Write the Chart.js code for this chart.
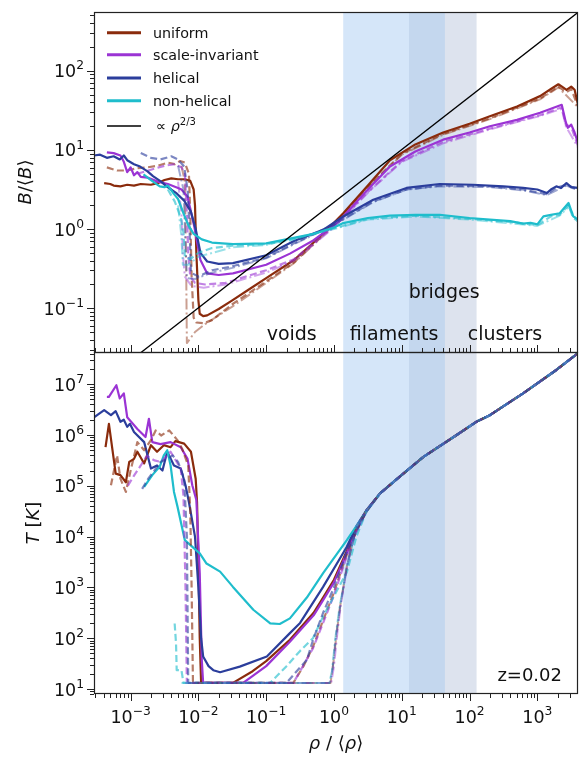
<!DOCTYPE html>
<html>
<head>
<meta charset="utf-8">
<script src="https://cdn.jsdelivr.net/npm/chart.js@4.4.0/dist/chart.umd.min.js"></script>
<style>
  html, body { margin: 0; padding: 0; background: #ffffff; }
  canvas { display: block; }
</style>
</head>
<body>
<canvas id="c" width="579" height="757"></canvas>
<script>
// Both axes are logarithmic, so every profile is stored as [log10(rho/<rho>), log10(value)] pairs.

// ---------- magnetic field profiles, B/<B> ----------
const bUniform = [[-3.39,0.58],[-3.3,0.57],[-3.25,0.55],[-3.15,0.54],[-3.05,0.56],[-2.95,0.55],[-2.85,0.57],[-2.7,0.56],[-2.6,0.58],[-2.5,0.62],[-2.4,0.64],[-2.3,0.63],[-2.2,0.63],[-2.12,0.61],[-2.07,0.5],[-2.05,0.3],[-2.03,-0.3],[-2.0,-0.9],[-1.98,-1.07],[-1.93,-1.1],[-1.87,-1.09],[-1.7,-1.01],[-1.5,-0.9],[-1.25,-0.76],[-1.0,-0.62],[-0.59,-0.39],[-0.3,-0.17],[0,0.08],[0.137,0.2],[0.5,0.55],[0.826,0.87],[1.2,1.07],[1.61,1.22],[2.0,1.33],[2.3,1.425],[2.7,1.55],[3.04,1.68],[3.2,1.77],[3.31,1.83],[3.38,1.79],[3.43,1.76],[3.5,1.8],[3.55,1.76],[3.6,1.57]];
const bUniformDash = [[-3.35,0.78],[-3.2,0.74],[-3.05,0.74],[-2.9,0.77],[-2.75,0.78],[-2.6,0.8],[-2.45,0.84],[-2.35,0.82],[-2.27,0.86],[-2.2,0.84],[-2.14,0.7],[-2.12,0.2],[-2.1,-0.6],[-2.07,-1.12],[-2.03,-1.18],[-1.92,-1.19],[-1.8,-1.15],[-1.5,-0.95],[-1.0,-0.66],[-0.59,-0.42],[0,0.06],[0.5,0.53],[1.0,0.95],[1.6,1.2],[2.3,1.4],[3.04,1.65],[3.31,1.8],[3.43,1.73],[3.5,1.77],[3.6,1.55]];
const bUniformDot = [[-2.25,0.8],[-2.2,0.6],[-2.18,-0.5],[-2.17,-1.44],[-2.05,-1.3],[-1.9,-1.2],[-1.5,-0.98],[-1.0,-0.68],[-0.59,-0.43],[0,0.05],[0.5,0.52],[1.0,0.94],[1.6,1.19],[2.3,1.39],[3.04,1.64],[3.31,1.79],[3.6,1.54]];

const bScaleInv = [[-3.35,0.97],[-3.25,0.96],[-3.15,0.93],[-3.1,0.85],[-3.05,0.72],[-3.0,0.78],[-2.95,0.68],[-2.9,0.72],[-2.85,0.66],[-2.75,0.65],[-2.6,0.6],[-2.45,0.57],[-2.3,0.52],[-2.25,0.5],[-2.16,0.41],[-2.06,0.03],[-1.97,-0.39],[-1.87,-0.56],[-1.7,-0.58],[-1.49,-0.56],[-1.0,-0.45],[-0.65,-0.31],[-0.3,-0.14],[0,0.05],[0.137,0.16],[0.5,0.5],[0.826,0.79],[1.2,0.98],[1.61,1.13],[2.0,1.22],[2.3,1.3],[2.7,1.38],[3.04,1.47],[3.2,1.52],[3.36,1.57],[3.42,1.35],[3.45,1.28],[3.5,1.32],[3.55,1.22],[3.6,1.09]];
const bScaleInvDash = [[-2.9,0.7],[-2.7,0.75],[-2.5,0.8],[-2.35,0.82],[-2.25,0.78],[-2.2,0.7],[-2.17,0.2],[-2.15,-0.3],[-2.12,-0.6],[-2.05,-0.68],[-1.9,-0.7],[-1.6,-0.68],[-1.0,-0.52],[-0.59,-0.38],[0,0.03],[0.5,0.47],[1.0,0.86],[1.6,1.1],[2.3,1.27],[3.04,1.44],[3.36,1.54],[3.42,1.32],[3.5,1.29],[3.6,1.05]];
const bScaleInvDot = [[-2.3,0.6],[-2.25,0.2],[-2.23,-0.3],[-2.2,-0.6],[-2.1,-0.72],[-1.92,-0.74],[-1.6,-0.7],[-1.0,-0.55],[-0.59,-0.4],[0,0.02],[0.5,0.46],[1.0,0.85],[1.6,1.08],[2.3,1.26],[3.04,1.43],[3.36,1.52],[3.42,1.3],[3.6,1.03]];

const bHelical = [[-3.54,0.93],[-3.45,0.94],[-3.35,0.9],[-3.25,0.92],[-3.16,0.88],[-3.1,0.93],[-3.05,0.87],[-2.95,0.82],[-2.86,0.79],[-2.75,0.73],[-2.67,0.67],[-2.55,0.6],[-2.47,0.54],[-2.4,0.5],[-2.32,0.45],[-2.21,0.36],[-2.11,0.22],[-2.04,0.0],[-1.97,-0.3],[-1.87,-0.41],[-1.7,-0.44],[-1.49,-0.43],[-1.0,-0.33],[-0.59,-0.15],[-0.16,-0.01],[0.137,0.16],[0.58,0.37],[1.07,0.52],[1.56,0.57],[2.05,0.56],[2.5,0.54],[2.79,0.52],[3.0,0.5],[3.14,0.455],[3.2,0.5],[3.28,0.54],[3.35,0.52],[3.43,0.58],[3.5,0.53],[3.6,0.52]];
const bHelicalDash = [[-2.85,0.96],[-2.7,0.9],[-2.56,0.88],[-2.4,0.92],[-2.3,0.88],[-2.21,0.79],[-2.16,0.5],[-2.13,0.0],[-2.11,-0.55],[-2.0,-0.6],[-1.8,-0.52],[-1.5,-0.47],[-1.0,-0.36],[-0.59,-0.18],[0,0.06],[0.58,0.35],[1.07,0.5],[1.56,0.55],[2.3,0.54],[2.79,0.5],[3.14,0.44],[3.28,0.52],[3.43,0.56],[3.6,0.5]];
const bHelicalDot = [[-2.3,0.8],[-2.22,0.5],[-2.19,-0.2],[-2.17,-0.62],[-2.05,-0.63],[-1.8,-0.55],[-1.5,-0.49],[-1.0,-0.37],[-0.59,-0.19],[0,0.05],[0.58,0.34],[1.07,0.5],[1.56,0.54],[2.3,0.53],[2.79,0.49],[3.14,0.43],[3.43,0.55],[3.6,0.49]];

const bNonHel = [[-2.81,0.69],[-2.7,0.62],[-2.57,0.54],[-2.5,0.53],[-2.45,0.55],[-2.37,0.455],[-2.3,0.38],[-2.22,0.2],[-2.15,0.05],[-2.07,-0.06],[-1.95,-0.13],[-1.8,-0.17],[-1.49,-0.19],[-1.0,-0.18],[-0.65,-0.12],[-0.3,-0.06],[0,0.02],[0.137,0.076],[0.5,0.14],[0.826,0.17],[1.2,0.18],[1.56,0.18],[2.0,0.14],[2.3,0.12],[2.6,0.1],[2.79,0.07],[2.9,0.08],[3.0,0.06],[3.09,0.16],[3.2,0.18],[3.33,0.2],[3.46,0.33],[3.53,0.16],[3.6,0.12]];
const bNonHelDash = [[-2.45,0.5],[-2.35,0.35],[-2.26,0.15],[-2.22,-0.05],[-2.2,-0.35],[-2.12,-0.38],[-2.0,-0.3],[-1.8,-0.24],[-1.5,-0.21],[-1.0,-0.19],[-0.65,-0.14],[0,0.01],[0.5,0.13],[1.2,0.17],[2.0,0.13],[2.6,0.09],[3.0,0.05],[3.2,0.16],[3.33,0.18],[3.46,0.3],[3.53,0.14],[3.6,0.1]];
const bNonHelDot = [[-2.3,0.3],[-2.25,-0.1],[-2.23,-0.45],[-2.15,-0.45],[-2.0,-0.35],[-1.5,-0.23],[-1.0,-0.2],[0,0.0],[0.5,0.12],[1.2,0.16],[2.0,0.12],[3.0,0.04],[3.33,0.17],[3.46,0.28],[3.6,0.09]];

// ---------- temperature profiles, T [K] ----------
// all runs follow the same relation above rho ~ 3 <rho>
const tShared = [[0.68,4.85],[0.97,5.18],[1.32,5.57],[1.81,6.0],[2.1,6.26],[2.3,6.39],[2.79,6.82],[3.28,7.28],[3.6,7.61]];

const tUniform = [[-3.37,5.76],[-3.32,6.22],[-3.22,5.24],[-3.15,5.21],[-3.07,5.07],[-3.02,5.47],[-2.95,5.53],[-2.9,5.67],[-2.8,5.44],[-2.7,5.8],[-2.61,5.67],[-2.51,5.8],[-2.41,5.76],[-2.34,5.88],[-2.21,5.83],[-2.11,5.67],[-2.04,5.14],[-2.02,4.68],[-2.0,3.5],[-1.98,2.0],[-1.96,1.12],[-1.49,1.12],[-1.2,1.35],[-1.0,1.55],[-0.65,1.97],[-0.3,2.5],[-0.16,2.8],[0,3.15],[0.19,3.72],[0.33,4.15],[0.48,4.52]];
const tUniformDash = [[-3.29,5.01],[-3.2,5.6],[-3.15,5.14],[-3.07,4.88],[-3.0,5.3],[-2.9,5.86],[-2.8,5.7],[-2.7,5.9],[-2.63,6.09],[-2.55,5.99],[-2.43,6.09],[-2.31,5.9],[-2.24,5.73],[-2.15,5.4],[-2.12,4.5],[-2.1,3.0],[-2.08,1.12],[-0.6,1.12],[-0.45,1.45],[-0.31,1.83],[-0.16,2.35],[0,2.9],[0.1,3.3],[0.19,3.65],[0.33,4.1],[0.48,4.5]];
const tUniformDot = [[-2.1,1.12],[-0.05,1.12],[-0.01,1.5],[0.04,2.1],[0.09,2.62],[0.19,3.41],[0.33,4.19],[0.48,4.52]];

const tScaleInv = [[-3.35,6.75],[-3.32,6.75],[-3.21,6.98],[-3.16,6.72],[-3.1,6.82],[-3.05,6.35],[-2.9,6.12],[-2.78,5.96],[-2.73,6.32],[-2.68,5.86],[-2.56,5.82],[-2.41,5.86],[-2.26,5.76],[-2.16,5.53],[-2.09,5.01],[-2.03,4.72],[-1.98,3.28],[-1.95,1.57],[-1.93,1.12],[-1.34,1.12],[-1.0,1.45],[-0.65,1.93],[-0.3,2.45],[-0.16,2.75],[0,3.1],[0.19,3.68],[0.33,4.12],[0.48,4.5]];
const tScaleInvDash = [[-3.04,5.0],[-2.95,5.2],[-2.85,5.4],[-2.76,5.59],[-2.65,5.5],[-2.55,5.47],[-2.41,5.67],[-2.32,5.47],[-2.26,5.34],[-2.22,4.8],[-2.19,3.0],[-2.17,1.12],[-0.6,1.12],[-0.5,1.35],[-0.31,1.8],[-0.16,2.3],[0,2.85],[0.19,3.62],[0.33,4.08],[0.48,4.5]];
const tScaleInvDot = [[-2.2,1.12],[-0.04,1.12],[0.0,1.45],[0.05,2.1],[0.1,2.65],[0.2,3.45],[0.33,4.2],[0.48,4.52]];

const tHelical = [[-3.54,6.35],[-3.39,6.49],[-3.29,6.39],[-3.22,6.47],[-3.15,6.26],[-3.1,6.3],[-3.05,6.16],[-3.01,6.22],[-2.95,6.06],[-2.8,5.86],[-2.7,5.34],[-2.61,5.4],[-2.53,5.3],[-2.46,5.67],[-2.36,5.4],[-2.26,5.34],[-2.19,5.01],[-2.14,4.68],[-2.05,4.0],[-2.0,3.0],[-1.96,2.0],[-1.93,1.64],[-1.85,1.45],[-1.78,1.37],[-1.68,1.33],[-1.39,1.44],[-0.99,1.64],[-0.65,2.1],[-0.5,2.3],[-0.16,3.01],[0.19,3.8],[0.33,4.2],[0.48,4.52]];
const tHelicalDash = [[-2.83,4.94],[-2.74,5.14],[-2.65,5.3],[-2.56,5.47],[-2.46,5.53],[-2.38,5.6],[-2.3,5.47],[-2.21,5.14],[-2.17,4.0],[-2.15,1.12],[-0.7,1.12],[-0.55,1.35],[-0.4,1.57],[-0.31,1.96],[-0.16,2.5],[0,3.0],[0.19,3.7],[0.33,4.12],[0.48,4.5]];
const tHelicalDot = [[-2.15,1.12],[-0.06,1.12],[-0.02,1.4],[0.03,2.05],[0.09,2.6],[0.19,3.42],[0.33,4.18],[0.48,4.52]];

const tNonHel = [[-2.8,4.98],[-2.68,5.21],[-2.57,5.38],[-2.51,5.6],[-2.46,5.7],[-2.41,5.4],[-2.36,4.88],[-2.31,4.6],[-2.2,3.93],[-1.98,3.67],[-1.88,3.47],[-1.68,3.31],[-1.49,3.01],[-1.19,2.56],[-0.94,2.29],[-0.8,2.28],[-0.65,2.39],[-0.4,2.8],[-0.16,3.28],[0.19,3.93],[0.46,4.46]];
const tNonHelDash = [[-2.35,2.29],[-2.33,1.9],[-2.32,1.37],[-2.25,1.37],[-2.22,1.12],[-0.94,1.12],[-0.7,1.45],[-0.5,1.75],[-0.31,2.0],[-0.16,2.43],[0.19,3.3],[0.33,4.0],[0.48,4.5]];
const tNonHelDot = [[-2.25,1.12],[-0.07,1.12],[-0.03,1.35],[0.02,2.0],[0.08,2.6],[0.19,3.4],[0.33,4.18],[0.48,4.52]];

// reference power law B ∝ rho^(2/3)
const refRho = [1e-3, 4000];
const refNorm = 2.18;
const refSlope = 2 / 3;

// density ranges of the structure classes
const bandLo = [1.37, 12.8, 43.4];
const bandHi = [12.8, 43.4, 127];

const modelNames = ['uniform', 'scale-invariant', 'helical', 'non-helical'];
const xDecades = [-3, -2, -1, 0, 1, 2, 3];
const bDecades = [-1, 0, 1, 2];
const tDecades = [1, 2, 3, 4, 5, 6, 7];

// ---------- styling ----------
const modelRGB = [[138, 43, 12], [155, 52, 212], [43, 62, 156], [31, 189, 204]];
const bandColors = ['#d5e6f9', '#c4d7ee', '#dde3ee'];
const FONT = '"DejaVu Sans", "Liberation Sans", sans-serif';

const bSeries = [[bUniform, bUniformDash, bUniformDot], [bScaleInv, bScaleInvDash, bScaleInvDot],
                 [bHelical, bHelicalDash, bHelicalDot], [bNonHel, bNonHelDash, bNonHelDot]];
const tSeries = [[tUniform, tUniformDash, tUniformDot], [tScaleInv, tScaleInvDash, tScaleInvDot],
                 [tHelical, tHelicalDash, tHelicalDot], [tNonHel, tNonHelDash, tNonHelDot]];

const variantStyle = [
  { alpha: 1.0, width: 2.2, dash: [] },
  { alpha: 0.62, width: 2.2, dash: [7, 3.5] },
  { alpha: 0.45, width: 2.0, dash: [11, 3, 2, 3] }
];

const toPoints = pairs => pairs.map(p => ({ x: Math.pow(10, p[0]), y: Math.pow(10, p[1]) }));
const rgba = (c, a) => `rgba(${c[0]},${c[1]},${c[2]},${a})`;

const datasets = [];
let drawIndex = 0;
function addSeries(pairs, axis, m, v) {
  const st = variantStyle[v];
  datasets.push({
    label: modelNames[m],
    data: toPoints(pairs),
    yAxisID: axis,
    borderColor: rgba(modelRGB[m], st.alpha),
    borderWidth: st.width,
    borderDash: st.dash,
    pointRadius: 0,
    fill: false,
    tension: 0,
    borderJoinStyle: 'round',
    order: 1000 - (drawIndex++)   // later series are painted on top
  });
}
// upper panel: each model's three runs painted together
for (const m of [0, 1, 2, 3]) for (let v = 0; v < 3; v++) addSeries(bSeries[m][v], 'yB', m, v);
// lower panel: solid runs first, then the dashed and dash-dotted runs above them
for (const m of [0, 1, 2, 3]) addSeries(tSeries[m][0].concat(tShared), 'yT', m, 0);
for (let v = 1; v < 3; v++) for (const m of [0, 1, 3, 2]) addSeries(tSeries[m][v].concat(tShared), 'yT', m, v);

datasets.push({
  label: 'rho^(2/3)',
  data: refRho.map(r => ({ x: r, y: refNorm * Math.pow(r, refSlope) })),
  yAxisID: 'yB',
  borderColor: '#000000',
  borderWidth: 1.3,
  pointRadius: 0,
  fill: false,
  order: 0
});

// ---------- text helpers ----------
function partFont(p, size) {
  const s = p.sup ? size * 0.7 : size;
  return (p.it ? 'italic ' : '') + s.toFixed(1) + 'px ' + FONT;
}
function richWidth(ctx, parts, size) {
  let w = 0;
  for (const p of parts) { ctx.font = partFont(p, size); w += ctx.measureText(p.t).width; }
  return w;
}
function drawRich(ctx, parts, x, y, size, align) {
  const w = richWidth(ctx, parts, size);
  let cx = align === 'right' ? x - w : align === 'center' ? x - w / 2 : x;
  ctx.textAlign = 'left';
  ctx.textBaseline = 'alphabetic';
  for (const p of parts) {
    ctx.font = partFont(p, size);
    ctx.fillText(p.t, cx, p.sup ? y - size * 0.45 : y);
    cx += ctx.measureText(p.t).width;
  }
}
const powerLabel = e => [{ t: '10' }, { t: e < 0 ? '\u2212' + (-e) : String(e), sup: true }];

function minorValues(scale) {
  const out = [];
  const lo = Math.floor(Math.log10(scale.min)), hi = Math.ceil(Math.log10(scale.max));
  for (let d = lo; d <= hi; d++) {
    for (let k = 1; k <= 9; k++) {
      const v = k * Math.pow(10, d);
      if (v >= scale.min && v <= scale.max) out.push({ v, major: k === 1 });
    }
  }
  return out;
}

const panelPlugin = {
  id: 'panels',
  beforeDatasetsDraw(chart) {
    const { ctx, chartArea, scales } = chart;
    const x = scales.x;
    ctx.save();
    for (let i = 0; i < bandLo.length; i++) {
      const x0 = x.getPixelForValue(bandLo[i]);
      const x1 = x.getPixelForValue(bandHi[i]);
      ctx.fillStyle = bandColors[i];
      ctx.fillRect(x0, chartArea.top, x1 - x0, chartArea.bottom - chartArea.top);
    }
    ctx.restore();
  },
  beforeDatasetDraw(chart, args) {
    const ds = chart.data.datasets[args.index];
    const ys = chart.scales[ds.yAxisID];
    const { ctx, chartArea } = chart;
    ctx.save();
    ctx.beginPath();
    ctx.rect(chartArea.left, ys.top, chartArea.right - chartArea.left, ys.bottom - ys.top);
    ctx.clip();
  },
  afterDatasetDraw(chart) {
    chart.ctx.restore();
  },
  afterDatasetsDraw(chart) {
    const { ctx, chartArea, scales } = chart;
    const x = scales.x, yB = scales.yB, yT = scales.yT;
    const L = chartArea.left, R = chartArea.right;
    ctx.save();

    // frames of the two panels
    ctx.strokeStyle = '#222222';
    ctx.lineWidth = 1.2;
    ctx.strokeRect(L + 0.5, yB.top + 0.5, R - L - 1, yB.bottom - yB.top);
    ctx.strokeRect(L + 0.5, yT.top + 0.5, R - L - 1, yT.bottom - yT.top - 1);

    // ticks
    ctx.lineWidth = 1;
    ctx.strokeStyle = '#222222';
    const xt = minorValues(x);
    ctx.beginPath();
    for (const t of xt) {
      const px = Math.round(x.getPixelForValue(t.v)) + 0.5;
      const len = t.major ? 7 : 4;
      ctx.moveTo(px, yT.bottom); ctx.lineTo(px, yT.bottom + len);
      ctx.moveTo(px, yB.bottom); ctx.lineTo(px, yB.bottom - len);
    }
    for (const ys of [yB, yT]) {
      for (const t of minorValues(ys)) {
        const py = Math.round(ys.getPixelForValue(t.v)) + 0.5;
        const len = t.major ? 7 : 4;
        ctx.moveTo(L, py); ctx.lineTo(L - len, py);
      }
    }
    ctx.stroke();

    // tick labels
    ctx.fillStyle = '#111111';
    const TS = 17.5;
    for (const e of xDecades) {
      drawRich(ctx, powerLabel(e), x.getPixelForValue(Math.pow(10, e)), yT.bottom + 29, TS, 'center');
    }
    for (const e of bDecades) {
      drawRich(ctx, powerLabel(e), L - 10, yB.getPixelForValue(Math.pow(10, e)) + 6.5, TS, 'right');
    }
    for (const e of tDecades) {
      drawRich(ctx, powerLabel(e), L - 10, yT.getPixelForValue(Math.pow(10, e)) + 6.5, TS, 'right');
    }

    // axis titles
    const AS = 18;
    drawRich(ctx, [{ t: '\u03C1', it: true }, { t: ' / \u27E8' }, { t: '\u03C1', it: true }, { t: '\u27E9' }],
      (L + R) / 2, 749, AS, 'center');
    ctx.save();
    ctx.translate(31, (yB.top + yB.bottom) / 2);
    ctx.rotate(-Math.PI / 2);
    drawRich(ctx, [{ t: 'B', it: true }, { t: '/\u27E8' }, { t: 'B', it: true }, { t: '\u27E9' }], 0, 0, AS, 'center');
    ctx.restore();
    ctx.save();
    ctx.translate(39, (yT.top + yT.bottom) / 2);
    ctx.rotate(-Math.PI / 2);
    drawRich(ctx, [{ t: 'T', it: true }, { t: ' [' }, { t: 'K', it: true }, { t: ']' }], 0, 0, AS, 'center');
    ctx.restore();

    // structure labels
    const RS = 19;
    const base = yB.bottom - 12;
    drawRich(ctx, [{ t: 'voids' }], x.getPixelForValue(0.238), base, RS, 'center');
    drawRich(ctx, [{ t: 'filaments' }], x.getPixelForValue(7.7), base, RS, 'center');
    drawRich(ctx, [{ t: 'clusters' }], x.getPixelForValue(333), base, RS, 'center');
    drawRich(ctx, [{ t: 'bridges' }], x.getPixelForValue(42.2), yB.bottom - 54, RS, 'center');

    // redshift tag
    drawRich(ctx, [{ t: 'z=0.02' }], R - 16, yT.bottom - 13, 18, 'right');

    // legend
    const LS = 14.3;
    const rows = [32.7, 54.7, 78, 100.7, 126];
    for (let m = 0; m < 4; m++) {
      ctx.strokeStyle = rgba(modelRGB[m], 1);
      ctx.lineWidth = 3;
      ctx.setLineDash([]);
      ctx.beginPath();
      ctx.moveTo(L + 13, rows[m]); ctx.lineTo(L + 47, rows[m]);
      ctx.stroke();
      drawRich(ctx, [{ t: modelNames[m] }], L + 59, rows[m] + 5.2, LS, 'left');
    }
    ctx.strokeStyle = '#000000';
    ctx.lineWidth = 1.3;
    ctx.beginPath();
    ctx.moveTo(L + 13, rows[4]); ctx.lineTo(L + 47, rows[4]);
    ctx.stroke();
    drawRich(ctx, [{ t: '\u221D ' }, { t: '\u03C1', it: true }, { t: '2/3', sup: true }], L + 62, rows[4] + 5, LS, 'left');

    ctx.restore();
  }
};

new Chart(document.getElementById('c'), {
  type: 'line',
  data: { datasets },
  options: {
    responsive: false,
    animation: false,
    events: [],
    layout: { padding: { top: 12, right: 1, left: 0, bottom: 0 } },
    plugins: { legend: { display: false }, tooltip: { enabled: false } },
    scales: {
      x: {
        type: 'logarithmic', position: 'bottom',
        min: Math.pow(10, -3.54), max: Math.pow(10, 3.6),
        grid: { display: false }, border: { display: false }, ticks: { display: false },
        afterFit(s) { s.height = 63; }
      },
      yT: {
        type: 'logarithmic', position: 'left', stack: 'panels', stackWeight: 342,
        min: Math.pow(10, 0.9016), max: Math.pow(10, 7.634),
        grid: { display: false }, border: { display: false }, ticks: { display: false },
        afterFit(s) { s.width = 94; }
      },
      yB: {
        type: 'logarithmic', position: 'left', stack: 'panels', stackWeight: 340,
        min: Math.pow(10, -1.553), max: Math.pow(10, 2.743),
        grid: { display: false }, border: { display: false }, ticks: { display: false },
        afterFit(s) { s.width = 94; }
      }
    }
  },
  plugins: [panelPlugin]
});
</script>
</body>
</html>
